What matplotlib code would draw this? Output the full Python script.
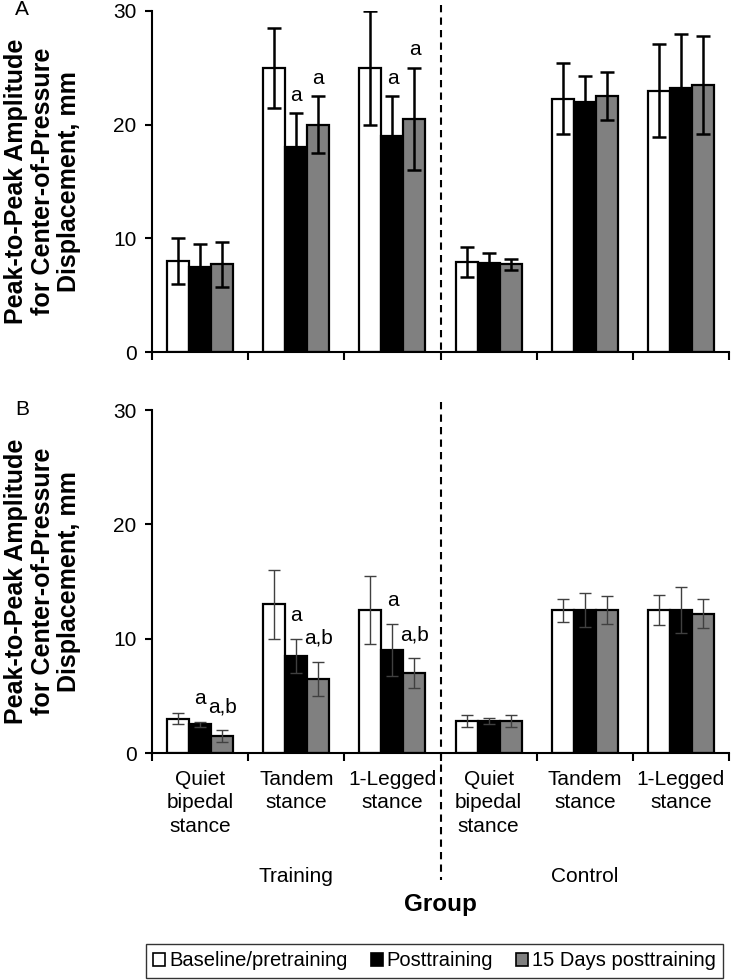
import numpy as np
import matplotlib
matplotlib.use("Agg")
import matplotlib.pyplot as plt
from matplotlib.patches import Patch
from matplotlib.transforms import blended_transform_factory

plt.rcParams["font.family"] = ["Liberation Sans", "DejaVu Sans"]

categories = ["Quiet\nbipedal\nstance", "Tandem\nstance", "1-Legged\nstance",
              "Quiet\nbipedal\nstance", "Tandem\nstance", "1-Legged\nstance"]
groups = ["Training", "Control"]
series = ["Baseline/pretraining", "Posttraining", "15 Days posttraining"]
colors = ["white", "black", "#808080"]

# panel A: peak-to-peak amplitude (mm), mean and error
a_base = [8.0, 25.0, 25.0, 7.9, 22.3, 23.0]
a_base_err = [2.0, 3.5, 5.0, 1.3, 3.1, 4.1]
a_post = [7.5, 18.0, 19.0, 7.8, 22.0, 23.2]
a_post_err = [2.0, 3.0, 3.5, 0.9, 2.3, 4.8]
a_15d = [7.7, 20.0, 20.5, 7.7, 22.5, 23.5]
a_15d_err = [2.0, 2.5, 4.5, 0.5, 2.1, 4.3]

# panel B
b_base = [3.0, 13.0, 12.5, 2.8, 12.5, 12.5]
b_base_err = [0.5, 3.0, 3.0, 0.5, 1.0, 1.3]
b_post = [2.5, 8.5, 9.0, 2.8, 12.5, 12.5]
b_post_err = [0.2, 1.5, 2.3, 0.3, 1.5, 2.0]
b_15d = [1.5, 6.5, 7.0, 2.8, 12.5, 12.2]
b_15d_err = [0.5, 1.5, 1.3, 0.5, 1.2, 1.3]

# significance marks: (category, series index, text)
a_marks = [(1, 1, "a"), (1, 2, "a"), (2, 1, "a"), (2, 2, "a")]
b_marks = [(0, 1, "a"), (0, 2, "a,b"), (1, 1, "a"), (1, 2, "a,b"),
           (2, 1, "a"), (2, 2, "a,b")]

yticks = [0, 10, 20, 30]
ylabel = "Peak-to-Peak Amplitude\nfor Center-of-Pressure\nDisplacement, mm"

fig = plt.figure(figsize=(7.33, 9.8), dpi=100)
ax_a = fig.add_axes([0.2074, 0.6408, 0.7872, 0.348])
ax_b = fig.add_axes([0.2074, 0.2316, 0.7872, 0.350])

w = 0.229
x = np.arange(len(categories)) + 0.5


def draw_panel(ax, means, errs, marks, err_kw, mark_off, letter, dash_top, dash_bottom):
    tops = []
    for i, (m, e) in enumerate(zip(means, errs)):
        xi = x + (i - 1) * w
        ax.bar(xi, m, width=w, color=colors[i], edgecolor="black",
               linewidth=1.6, zorder=2)
        ax.errorbar(xi, m, yerr=e, fmt="none", zorder=3, **err_kw)
        tops.append(np.array(m) + np.array(e))
    for c, s, txt in marks:
        ax.annotate(txt, (x[c] + (s - 1) * w, tops[s][c]), xytext=(0, mark_off),
                    textcoords="offset points", ha="center", va="bottom",
                    fontsize=15)
    ax.set_xlim(0, 6)
    ax.set_ylim(0, 30)
    ax.set_yticks(yticks)
    ax.set_xticks(np.arange(7))
    ax.set_xticklabels([])
    for side in ["top", "right"]:
        ax.spines[side].set_visible(False)
    for side in ["left", "bottom"]:
        ax.spines[side].set_linewidth(1.5)
    ax.tick_params(axis="y", labelsize=15, length=5, width=1.5, pad=6)
    ax.tick_params(axis="x", length=6, width=1.5)
    ax.plot([3, 3], [dash_top, dash_bottom], color="black", lw=1.5,
            ls=(0, (3.5, 2.5)), clip_on=False, zorder=4)
    pos = ax.get_position()
    fig.text(0.058, (pos.y0 + pos.y1) / 2, ylabel,
             rotation=90, ha="center", va="center", fontsize=18,
             fontweight="bold", linespacing=1.12, multialignment="center")
    fig.text(0.03, pos.y1 + 0.001, letter, fontsize=15,
             ha="center", va="center")


draw_panel(ax_a, [a_base, a_post, a_15d], [a_base_err, a_post_err, a_15d_err],
           a_marks, dict(ecolor="black", elinewidth=1.8, capsize=5, capthick=1.8),
           6, "A", 30.5, 0)
draw_panel(ax_b, [b_base, b_post, b_15d], [b_base_err, b_post_err, b_15d_err],
           b_marks, dict(ecolor="#404040", elinewidth=1.0, capsize=4, capthick=1.0),
           10, "B", 30.7, -11.1)

ax_b.set_xticks(x, minor=True)
ax_b.set_xticklabels(categories, minor=True, fontsize=15, linespacing=1.32)
ax_b.tick_params(axis="x", which="minor", length=0, pad=12)

tr = blended_transform_factory(ax_b.transData, ax_b.transAxes)
ax_b.text(1.5, -0.359, groups[0], transform=tr, ha="center", va="center", fontsize=15)
ax_b.text(4.5, -0.359, groups[1], transform=tr, ha="center", va="center", fontsize=15)
ax_b.text(3.0, -0.443, "Group", transform=tr, ha="center", va="center",
          fontsize=17.5, fontweight="bold")

handles = [Patch(facecolor=c, edgecolor="black", linewidth=1.2) for c in colors]
leg = fig.legend(handles, series, loc="center", bbox_to_anchor=(0.593, 0.0194),
                 ncol=3, fontsize=14.5, frameon=True, fancybox=False,
                 edgecolor="black", handlelength=0.6, handleheight=0.6,
                 handletextpad=0.2, columnspacing=1.15, borderpad=0.35,
                 borderaxespad=0)
leg.get_frame().set_linewidth(1.0)

fig.savefig("out.png", dpi=100)
